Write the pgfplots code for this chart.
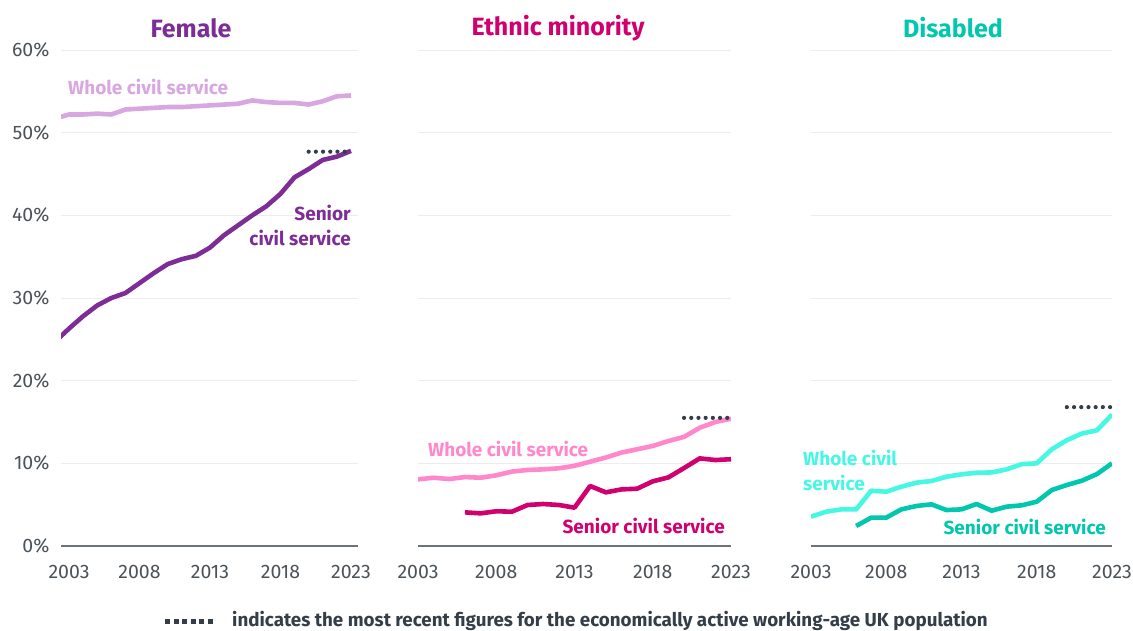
\documentclass[border=0pt]{standalone}
\usepackage{fontspec}
\setmainfont{Fira Sans}
\usepackage{pgfplots}
\pgfplotsset{compat=1.18}
\definecolor{fdark}{HTML}{7E2D96}
\definecolor{flight}{HTML}{D8A6E1}
\definecolor{edark}{HTML}{D1006F}
\definecolor{elight}{HTML}{FF87CB}
\definecolor{ddark}{HTML}{00C7AE}
\definecolor{dlight}{HTML}{46F7E4}
\definecolor{dotc}{HTML}{343E48}
\definecolor{tickc}{HTML}{4B5258}
\definecolor{gridc}{HTML}{EDEDED}
\definecolor{basec}{HTML}{6E7378}
\pgfplotsset{
  panel/.style={
    scale only axis, height=496pt, ymin=0, ymax=60,
    anchor=south west,
    axis line style={draw=none},
    major tick length=0pt,
    tick style={draw=none},
    ytick={10,20,30,40,50,60},
    ymajorgrids, grid style={gridc, line width=1pt},
    extra y ticks={0},
    extra y tick style={grid style={basec, line width=1.6pt}},
    xtick={2003,2008,2013,2018,2023},
    xticklabels={2003,2008,2013,2018,2023},
    ticklabel style={font=\fontsize{19.5}{22}\selectfont, text=tickc},
    xticklabel style={yshift=-16pt},
    yticklabel style={xshift=-8pt},
  },
  big/.style={line width=4.6pt, line join=round},
  dots/.style={dotc, line width=4.2pt, line cap=round, dash pattern=on 0pt off 7.2pt},
}
\begin{document}
\begin{tikzpicture}
\path[use as bounding box] (0,0) rectangle (1133pt,630pt);
% ---------- Female ----------
\begin{axis}[panel, at={(61pt,84pt)}, width=297pt, xmin=2002.43, xmax=2023.5,
  yticklabels={10\%,20\%,30\%,40\%,50\%,60\%}, extra y tick labels={0\%}]
\addplot[flight, big] coordinates {
(2002,51.7)(2003,52.2)(2004,52.2)(2005,52.3)(2006,52.2)(2007,52.8)(2008,52.9)
(2009,53.0)(2010,53.1)(2011,53.1)(2012,53.2)(2013,53.3)(2014,53.4)(2015,53.5)
(2016,53.9)(2017,53.7)(2018,53.6)(2019,53.6)(2020,53.4)(2021,53.8)(2022,54.4)(2023,54.5)};
\addplot[fdark, big] coordinates {
(2002,24.7)(2003,26.3)(2004,27.8)(2005,29.1)(2006,30.0)(2007,30.6)(2008,31.8)
(2009,33.0)(2010,34.1)(2011,34.7)(2012,35.1)(2013,36.1)(2014,37.6)(2015,38.8)
(2016,40.0)(2017,41.1)(2018,42.6)(2019,44.6)(2020,45.6)(2021,46.7)(2022,47.1)(2023,47.8)};
\addplot[dots] coordinates {(2020,47.7)(2023,47.7)};
\end{axis}
% ---------- Ethnic minority ----------
\begin{axis}[panel, at={(418pt,84pt)}, width=313pt, xmin=2003, xmax=2023,
  yticklabels={}, extra y tick labels={}]
\addplot[elight, big] coordinates {
(2003,8.06)(2004,8.26)(2005,8.1)(2006,8.34)(2007,8.26)(2008,8.55)(2009,9.0)
(2010,9.2)(2011,9.27)(2012,9.4)(2013,9.7)(2014,10.2)(2015,10.7)(2016,11.3)
(2017,11.7)(2018,12.1)(2019,12.7)(2020,13.2)(2021,14.3)(2022,15.0)(2023,15.4)};
\addplot[edark, big] coordinates {
(2006,4.07)(2007,3.95)(2008,4.2)(2009,4.15)(2010,4.96)(2011,5.08)(2012,4.96)
(2013,4.64)(2014,7.26)(2015,6.49)(2016,6.85)(2017,6.93)(2018,7.82)(2019,8.3)
(2020,9.43)(2021,10.6)(2022,10.4)(2023,10.5)};
\addplot[dots] coordinates {(2020,15.5)(2023,15.5)};
\end{axis}
% ---------- Disabled ----------
\begin{axis}[panel, at={(811pt,84pt)}, width=301pt, xmin=2003, xmax=2023,
  yticklabels={}, extra y tick labels={}]
\addplot[dlight, big] coordinates {
(2003,3.55)(2004,4.15)(2005,4.43)(2006,4.43)(2007,6.69)(2008,6.57)(2009,7.17)
(2010,7.66)(2011,7.86)(2012,8.38)(2013,8.67)(2014,8.86)(2015,8.9)(2016,9.27)
(2017,9.9)(2018,10.0)(2019,11.7)(2020,12.8)(2021,13.6)(2022,14.0)(2023,15.9)};
\addplot[ddark, big] coordinates {
(2006,2.42)(2007,3.43)(2008,3.43)(2009,4.43)(2010,4.84)(2011,5.04)(2012,4.35)
(2013,4.43)(2014,5.08)(2015,4.27)(2016,4.76)(2017,4.92)(2018,5.36)(2019,6.77)
(2020,7.38)(2021,7.9)(2022,8.7)(2023,10.0)};
\addplot[dots] coordinates {(2020,16.8)(2023,16.8)};
\end{axis}
% ---------- titles ----------
\begin{scope}[every node/.style={font=\fontsize{25}{29}\selectfont\bfseries, inner sep=0pt}]
\node[text=fdark] at (191pt,602pt) {Female};
\node[text=edark] at (558pt,602pt) {Ethnic minority};
\node[text=ddark] at (953pt,602pt) {Disabled};
\end{scope}
% ---------- series labels ----------
\begin{scope}[every node/.style={font=\fontsize{19}{25}\selectfont\bfseries, inner sep=0pt}]
\node[text=flight, anchor=west] at (68pt,543pt) {Whole civil service};
\node[text=fdark, anchor=east, align=right] at (351pt,405pt) {Senior\\civil service};
\node[text=elight, anchor=west] at (428pt,181pt) {Whole civil service};
\node[text=edark, anchor=east] at (725pt,104pt) {Senior civil service};
\node[text=dlight, anchor=west, align=left] at (803pt,160pt) {Whole civil\\service};
\node[text=ddark, anchor=east] at (1106pt,103pt) {Senior civil service};
\end{scope}
% ---------- footer ----------
\draw[dotc, line width=5pt, dash pattern=on 5pt off 3.6pt] (165pt,9pt) -- (213pt,9pt);
\node[anchor=west, inner sep=0pt, text=dotc, font=\fontsize{18.8}{22}\selectfont\bfseries] at (232pt,9pt) {indicates the most recent figures for the economically active working-age UK population};
\end{tikzpicture}
\end{document}
